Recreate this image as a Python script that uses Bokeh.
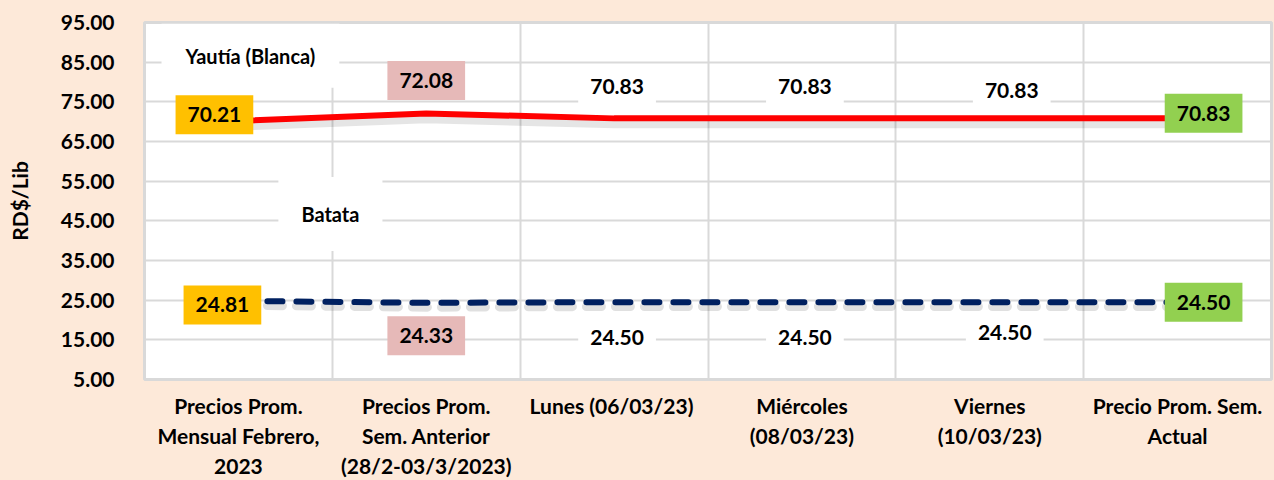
from bokeh.plotting import figure
from bokeh.models import (Label, FixedTicker, PrintfTickFormatter, Grid, Range1d)
from bokeh.embed import file_html
from bokeh.resources import INLINE

categories = [
    "Precios Prom.\nMensual Febrero,\n2023",
    "Precios Prom.\nSem. Anterior\n(28/2-03/3/2023)",
    "Lunes  (06/03/23)",
    "Miércoles\n(08/03/23)",
    "Viernes\n(10/03/23)",
    "Precio Prom. Sem.\nActual",
]
yautia = [70.21, 72.08, 70.83, 70.83, 70.83, 70.83]
batata = [24.81, 24.33, 24.50, 24.50, 24.50, 24.50]
y_ticks = [5, 15, 25, 35, 45, 55, 65, 75, 85, 95]
series_names = ["Yautía (Blanca)", "Batata"]

# styles / label placement (screen px)
BG = "#FDE9D9"
GRID = "#D9D9D9"
FONT = "Lato"
box_colors = ["#FFC000", "#E6B9B8", "white", "white", "white", "#92D050"]
ya_off = [(-24, 6), (0, 33), (3, 32), (3, 32), (22, 28), (26, 5)]
ba_off = [(-16, -4), (0, -33), (3, -35), (3, -35), (15, -30), (26, 0)]

p = figure(x_range=categories, y_range=Range1d(5, 95), width=1274, height=480,
           output_backend="svg", toolbar_location=None,
           min_border_left=144, min_border_right=3, min_border_top=22,
           min_border_bottom=99)
p.background_fill_color = "white"
p.border_fill_color = BG
p.outline_line_color = GRID
p.outline_line_width = 3

# grids
p.xgrid.visible = False
p.ygrid.grid_line_color = GRID
p.ygrid.grid_line_width = 2
p.add_layout(Grid(dimension=0, ticker=FixedTicker(ticks=[1, 2, 3, 4, 5]),
                  grid_line_color=GRID, grid_line_width=2))

# axes
p.yaxis.ticker = FixedTicker(ticks=y_ticks)
p.yaxis.formatter = PrintfTickFormatter(format="%.2f")
for ax in (p.xaxis, p.yaxis):
    ax.axis_line_color = None
    ax.major_tick_line_color = None
    ax.minor_tick_line_color = None
    ax.major_label_text_font = FONT
    ax.major_label_text_font_style = "bold"
    ax.major_label_text_color = "black"
p.yaxis.major_label_text_font_size = "21px"
p.xaxis.major_label_text_font_size = "21px"
p.yaxis.major_label_standoff = 24
p.xaxis.major_label_standoff = 7
p.yaxis.axis_label = "RD$/Lib"
p.yaxis.axis_label_text_font = FONT
p.yaxis.axis_label_text_font_style = "bold"
p.yaxis.axis_label_text_font_size = "21px"
p.yaxis.axis_label_text_color = "black"
p.yaxis.axis_label_standoff = 26

# shadows
p.line(categories, [v - 1.1 for v in yautia], line_color="black", line_alpha=0.10,
       line_width=11, line_join="round")
p.line(categories, [v - 1.1 for v in batata], line_color="black", line_alpha=0.12,
       line_width=9, line_dash="15 14", line_cap="round")

# lines
p.line(categories, yautia, line_color="#FF0000", line_width=6, line_join="round")
p.line(categories, batata, line_color="#002060", line_width=6, line_dash="15 14",
       line_cap="round")

def cx(i):
    # synthetic coordinate of the centre of category i
    return i + 0.5

def add_labels(vals, offs):
    for i, (v, (dx, dy), col) in enumerate(zip(vals, offs, box_colors)):
        p.add_layout(Label(x=cx(i), y=v, x_offset=dx, y_offset=dy, text=f"{v:.2f}",
                           text_font=FONT, text_font_style="bold", text_color="black",
                           text_font_size="21px", text_align="center",
                           text_baseline="middle", background_fill_color=col,
                           padding=(12, 12)))

add_labels(yautia, ya_off)
add_labels(batata, ba_off)

p.add_layout(Label(x=cx(0), y=yautia[0], x_offset=12, y_offset=65,
                   text=series_names[0], text_font=FONT, text_font_style="bold",
                   text_color="black",
                   text_font_size="20px", text_align="center", text_baseline="middle",
                   background_fill_color="white", padding=(24, 20)))
p.add_layout(Label(x=cx(0), y=batata[0], x_offset=92, y_offset=87,
                   text=series_names[1], text_font=FONT, text_font_style="bold",
                   text_color="black",
                   text_font_size="20px", text_align="center", text_baseline="middle",
                   background_fill_color="white", padding=(23, 25)))

html = file_html(p, INLINE, title="chart")
html = html.replace("</head>",
                    "<style>html,body{margin:0;padding:0;background:#FDE9D9;overflow:hidden;}</style></head>", 1)
open("out.html", "w").write(html)
